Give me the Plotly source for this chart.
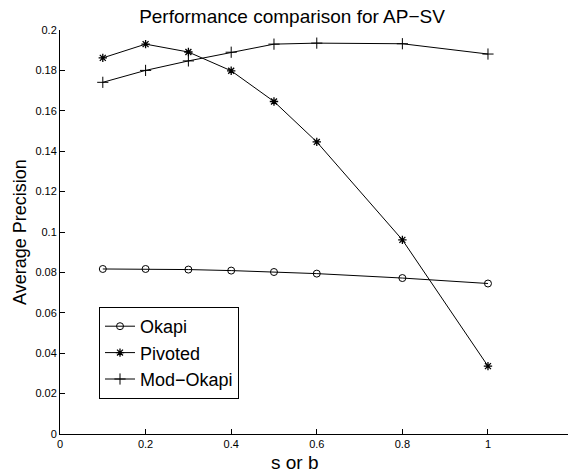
import plotly.graph_objects as go

x_vals = [0.1, 0.2, 0.3, 0.4, 0.5, 0.6, 0.8, 1.0]
okapi = [0.0817, 0.0817, 0.0814, 0.0809, 0.0802, 0.0794, 0.0772, 0.0745]
pivoted = [0.1862, 0.1930, 0.1891, 0.1798, 0.1646, 0.1446, 0.0961, 0.0336]
mod_okapi = [0.1741, 0.1800, 0.1847, 0.1890, 0.1930, 0.1935, 0.1932, 0.1881]

x_ticks = [0, 0.2, 0.4, 0.6, 0.8, 1]
x_tick_text = ["0", "0.2", "0.4", "0.6", "0.8", "1"]
y_ticks = [0, 0.02, 0.04, 0.06, 0.08, 0.1, 0.12, 0.14, 0.16, 0.18, 0.2]
y_tick_text = ["0", "0.02", "0.04", "0.06", "0.08", "0.1", "0.12", "0.14", "0.16", "0.18", "0.2"]

FONT = "Liberation Sans, Arial, Helvetica, sans-serif"
W, H = 568, 476
L, T = 60, 30
B = H - 434
PW, PH = W - L, H - T - B


def px_x(px):
    return (px - L) / PW


def px_y(py):
    return (H - B - py) / PH


fig = go.Figure()
fig.add_trace(go.Scatter(x=x_vals, y=okapi, name="Okapi", mode="lines+markers",
                         line=dict(color="black", width=1),
                         marker=dict(symbol="circle-open", size=7, color="black", line=dict(width=1))))
fig.add_trace(go.Scatter(x=x_vals, y=pivoted, name="Pivoted", mode="lines+markers",
                         line=dict(color="black", width=1),
                         marker=dict(symbol="asterisk-open", size=7, color="black", line=dict(width=1.3))))
fig.add_trace(go.Scatter(x=x_vals, y=mod_okapi, name="Mod\u2212Okapi", mode="lines+markers",
                         line=dict(color="black", width=1),
                         marker=dict(symbol="cross-thin-open", size=8, color="black", line=dict(width=1))))

fig.update_layout(
    width=W, height=H,
    margin=dict(l=L, r=0, t=T, b=B, autoexpand=False),
    paper_bgcolor="white", plot_bgcolor="white",
    font=dict(family=FONT, color="black"),
    title=dict(text="Performance comparison for AP\u2212SV", x=292 / W, xanchor="center",
               y=1 - 16 / H, yanchor="middle", font=dict(size=19, family=FONT)),
    xaxis=dict(range=[0, 1.187], tickvals=x_ticks, ticktext=x_tick_text, automargin=False,
               ticks="inside", ticklen=5, tickcolor="black", showline=True, linecolor="black",
               linewidth=1, showgrid=False, zeroline=False, tickfont=dict(size=11)),
    yaxis=dict(range=[0, 0.2], tickvals=y_ticks, ticktext=y_tick_text, automargin=False,
               ticks="inside", ticklen=5, tickcolor="black", showline=True, linecolor="black",
               linewidth=1, showgrid=False, zeroline=False, tickfont=dict(size=11)),
    legend=dict(x=px_x(99), y=px_y(307), xanchor="left", yanchor="top",
                bordercolor="black", borderwidth=1, bgcolor="white",
                font=dict(size=18, family=FONT), tracegroupgap=0, itemwidth=30),
    showlegend=True,
    annotations=[
        dict(text="s or b", xref="paper", yref="paper", x=px_x(295), y=px_y(462),
             xanchor="center", yanchor="middle",
             showarrow=False, font=dict(size=19, family=FONT)),
        dict(text="Average Precision", xref="paper", yref="paper", x=px_x(20), y=px_y(232),
             xanchor="center", yanchor="middle", textangle=-90,
             showarrow=False, font=dict(size=18, family=FONT)),
    ],
)

fig.write_html("out.html", config={"displayModeBar": False},
               post_script="document.body.style.margin='0';document.body.style.overflow='hidden';")
